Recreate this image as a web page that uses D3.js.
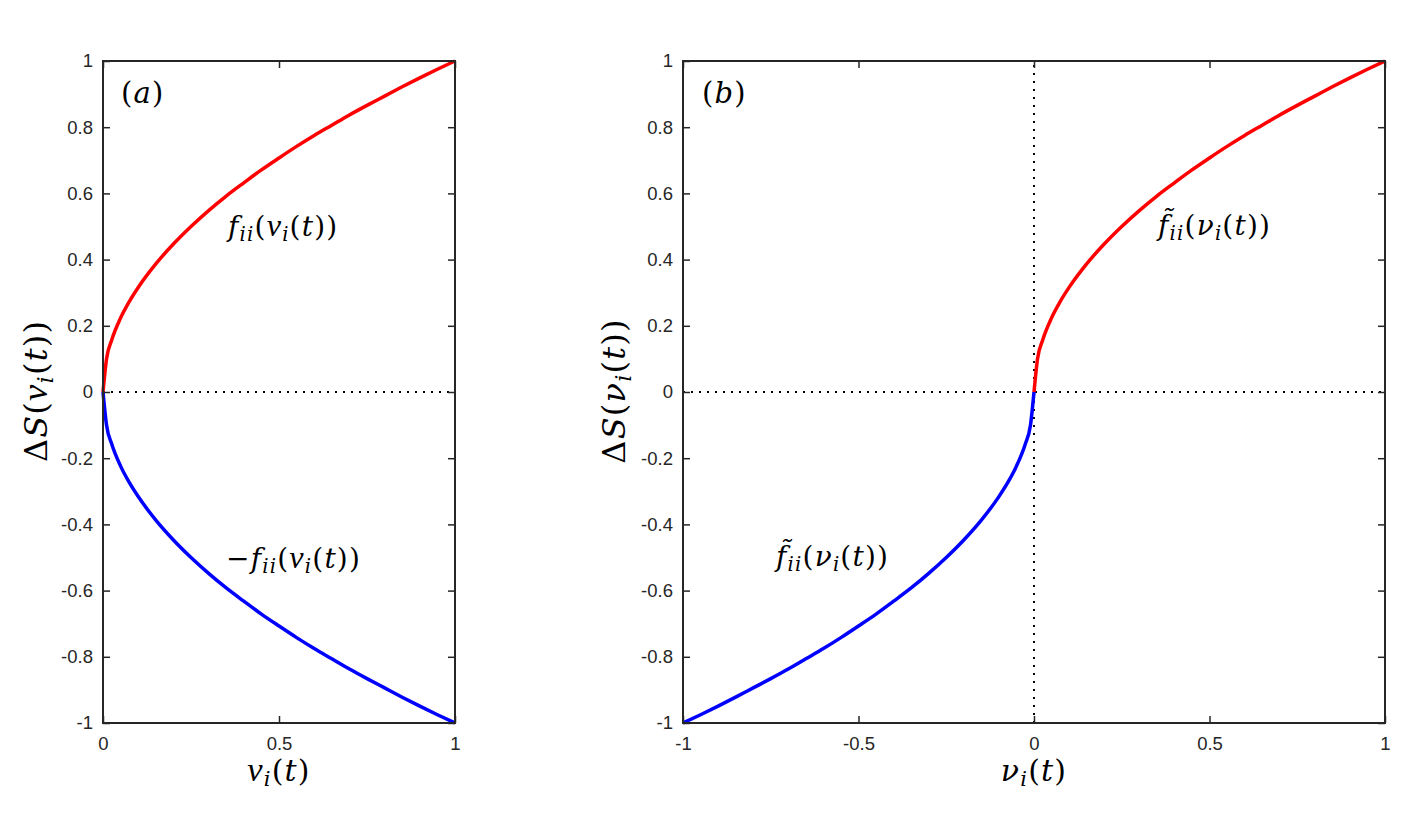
<!DOCTYPE html>
<html>
<head>
<meta charset="utf-8">
<script src="https://cdn.jsdelivr.net/npm/d3@7"></script>
<style>
  body { margin: 0; background: #fff; }
  .tick text { font-family: "Liberation Sans", Arial, sans-serif; font-size: 18.5px; fill: #262626; }
  .math { font-family: "DejaVu Serif", "Liberation Serif", serif; font-style: italic; fill: #000; }
  .up { font-style: normal; }
  .lat { font-family: "Liberation Serif", serif; }
</style>
</head>
<body>
<svg id="chart" width="1417" height="815"></svg>
<script>
  // values
  var vGrid = [0, 0.01, 0.025, 0.05, 0.075, 0.1, 0.15, 0.2, 0.25, 0.3, 0.35, 0.4, 0.45, 0.5,
               0.55, 0.6, 0.65, 0.7, 0.75, 0.8, 0.85, 0.9, 0.95, 1];
  var fVals = [0, 0.1, 0.158, 0.224, 0.274, 0.316, 0.387, 0.447, 0.5, 0.548, 0.592, 0.632, 0.671, 0.707,
               0.742, 0.775, 0.806, 0.837, 0.866, 0.894, 0.922, 0.949, 0.975, 1];
  var negFVals = [0, -0.1, -0.158, -0.224, -0.274, -0.316, -0.387, -0.447, -0.5, -0.548, -0.592, -0.632, -0.671, -0.707,
                  -0.742, -0.775, -0.806, -0.837, -0.866, -0.894, -0.922, -0.949, -0.975, -1];
  var nuNeg = [-1, -0.95, -0.9, -0.85, -0.8, -0.75, -0.7, -0.65, -0.6, -0.55, -0.5, -0.45, -0.4,
               -0.35, -0.3, -0.25, -0.2, -0.15, -0.1, -0.075, -0.05, -0.025, -0.01, 0];
  var fTildeNeg = [-1, -0.975, -0.949, -0.922, -0.894, -0.866, -0.837, -0.806, -0.775, -0.742, -0.707, -0.671, -0.632,
                   -0.592, -0.548, -0.5, -0.447, -0.387, -0.316, -0.274, -0.224, -0.158, -0.1, 0];

  var yTicks = [-1, -0.8, -0.6, -0.4, -0.2, 0, 0.2, 0.4, 0.6, 0.8, 1];
  var xTicksA = [0, 0.5, 1];
  var xTicksB = [-1, -0.5, 0, 0.5, 1];

  var svg = d3.select('#chart');
  var axisColor = '#262626';

  function zip(xs, ys) {
    return xs.map(function(x, i) { return [x, ys[i]]; });
  }

  function panel(opts) {
    var x = d3.scaleLinear().domain(opts.xDomain).range([opts.left, opts.right]);
    var y = d3.scaleLinear().domain([-1, 1]).range([723, 61]);
    var g = svg.append('g');

    // dotted zero lines
    g.append('line')
      .attr('x1', x.range()[0]).attr('x2', x.range()[1])
      .attr('y1', y(0)).attr('y2', y(0))
      .attr('stroke', '#000').attr('stroke-width', 2)
      .attr('stroke-dasharray', '2,6');
    if (opts.vZero) {
      g.append('line')
        .attr('x1', x(0)).attr('x2', x(0))
        .attr('y1', y(-1)).attr('y2', y(1))
        .attr('stroke', '#000').attr('stroke-width', 2)
        .attr('stroke-dasharray', '2,6');
    }

    var line = d3.line()
      .x(function(d) { return x(d[0]); })
      .y(function(d) { return y(d[1]); })
      .curve(d3.curveMonotoneX);
    opts.series.forEach(function(s) {
      g.append('path')
        .datum(s.data)
        .attr('d', line)
        .attr('fill', 'none')
        .attr('stroke', s.color)
        .attr('stroke-width', 3.5)
        .attr('stroke-linejoin', 'round');
    });

    var fmt = function(d) { return d3.format('')(d).replace('\u2212', '-'); };

    g.append('g').attr('transform', 'translate(' + x.range()[0] + ',0)')
      .call(d3.axisLeft(y).tickValues(yTicks).tickSize(-7).tickPadding(10).tickFormat(fmt));
    g.append('g').attr('transform', 'translate(' + x.range()[1] + ',0)')
      .call(d3.axisRight(y).tickValues(yTicks).tickSize(-7).tickFormat(''));
    g.append('g').attr('transform', 'translate(0,' + y(-1) + ')')
      .call(d3.axisBottom(x).tickValues(opts.xTicks).tickSize(-7).tickPadding(14).tickFormat(fmt));
    g.append('g').attr('transform', 'translate(0,' + y(1) + ')')
      .call(d3.axisTop(x).tickValues(opts.xTicks).tickSize(-7).tickFormat(''));
    g.selectAll('.domain').remove();
    g.selectAll('.tick line').attr('stroke', axisColor).attr('stroke-width', 1.5);
    g.selectAll('.tick text').attr('fill', axisColor);

    g.append('rect')
      .attr('x', x.range()[0]).attr('y', y(1))
      .attr('width', x.range()[1] - x.range()[0]).attr('height', y(-1) - y(1))
      .attr('fill', 'none').attr('stroke', axisColor).attr('stroke-width', 2);

    return { g: g, x: x, y: y };
  }

  // parts: [text, kind, cls] ; kind 's' = subscript, 'after' = back to baseline
  function mathText(g, px, py, size, parts, anchor, rotate) {
    var t = g.append('text').attr('class', 'math')
      .attr('font-size', size)
      .attr('letter-spacing', 1.2)
      .attr('text-anchor', anchor || 'start');
    if (rotate) {
      t.attr('transform', 'translate(' + px + ',' + py + ') rotate(-90)');
    } else {
      t.attr('x', px).attr('y', py);
    }
    parts.forEach(function(p) {
      var ts = t.append('tspan').text(p[0]);
      if (p[1] === 's') {
        ts.attr('font-size', size * 0.7).attr('dy', size * 0.18);
      } else if (p[1] === 'after') {
        ts.attr('dy', -size * 0.18);
      }
      if (p[2] === 'up') ts.attr('class', 'up');
      if (p[2] === 'lat') ts.attr('class', 'lat').attr('font-size', size * 1.15);
    });
    return t;
  }

  var a = panel({
    left: 103, right: 455, xDomain: [0, 1], xTicks: xTicksA,
    series: [
      { color: '#ff0000', data: zip(vGrid, fVals) },
      { color: '#0000ff', data: zip(vGrid, negFVals) }
    ]
  });
  var b = panel({
    left: 683, right: 1385, xDomain: [-1, 1], xTicks: xTicksB, vZero: true,
    series: [
      { color: '#ff0000', data: zip(vGrid, fVals) },
      { color: '#0000ff', data: zip(nuNeg, fTildeNeg) }
    ]
  });

  var vPart = [['v', 'n', 'lat'], ['i', 's'], ['(', 'after', 'up'], ['t', 'n']];
  var nuPart = [['\u03bd', 'n'], ['i', 's'], ['(', 'after', 'up'], ['t', 'n']];
  var fPart = [['f', 'n'], ['ii', 's'], ['(', 'after', 'up']].concat(vPart, [['))', 'n', 'up']]);
  var ftPart = [['f\u0303', 'n'], ['ii', 's'], ['(', 'after', 'up']].concat(nuPart, [['))', 'n', 'up']]);

  // panel a labels
  mathText(a.g, 121, 103, 29, [['(', 'n', 'up'], ['a', 'n'], [')', 'n', 'up']]);
  mathText(a.g, 228, 236, 28, fPart);
  mathText(a.g, 226, 568, 28, [['\u2212', 'n', 'up']].concat(fPart));
  mathText(a.g, 279, 781, 30, vPart.concat([[')', 'n', 'up']]), 'middle');
  mathText(a.g, 47, 391, 32, [['\u0394', 'n', 'up'], ['S', 'n'], ['(', 'n', 'up']].concat(vPart, [['))', 'n', 'up']]), 'middle', true);

  // panel b labels
  mathText(b.g, 702, 103, 29, [['(', 'n', 'up'], ['b', 'n'], [')', 'n', 'up']]);
  mathText(b.g, 1158, 235, 28, ftPart);
  mathText(b.g, 776, 566, 28, ftPart);
  mathText(b.g, 1034, 781, 30, nuPart.concat([[')', 'n', 'up']]), 'middle');
  mathText(b.g, 625, 391, 32, [['\u0394', 'n', 'up'], ['S', 'n'], ['(', 'n', 'up']].concat(nuPart, [['))', 'n', 'up']]), 'middle', true);
</script>
</body>
</html>
